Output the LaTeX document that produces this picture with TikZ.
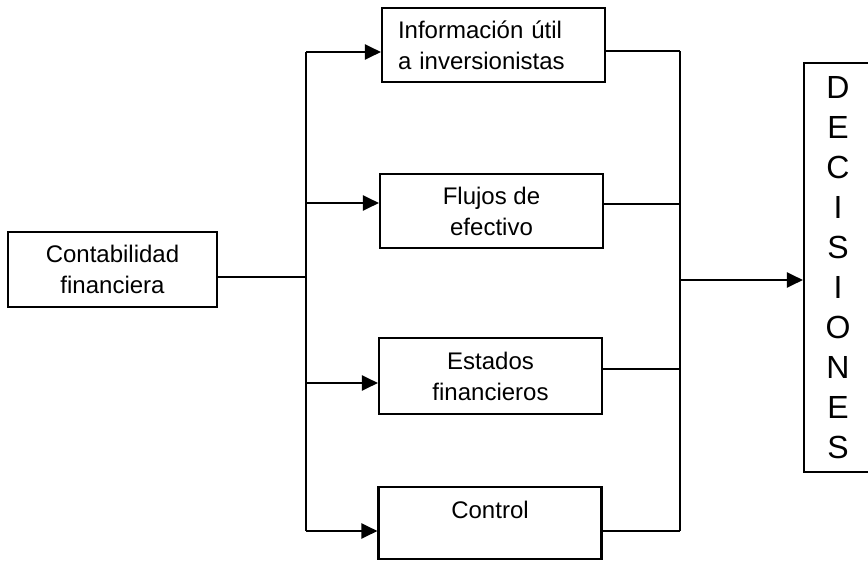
\documentclass[tikz,border=0pt]{standalone}
\usepackage{fontspec}
\setmainfont{Liberation Sans}
\usetikzlibrary{arrows.meta}

\begin{document}
\begin{tikzpicture}[
  x=1pt, y=-1pt,
  bx/.style={rectangle, draw, line width=2.1pt, minimum width=223pt, minimum height=74pt,
             inner sep=0pt, align=center, font=\fontsize{24}{31}\selectfont},
  ln/.style={line width=2.1pt},
  ar/.style={ln, -{Triangle[length=16pt, width=15pt]}}
]
  \useasboundingbox (0,0) rectangle (868,562);

  %--- Source ---
  \node[bx, minimum width=209pt, minimum height=75pt] (cont) at (112.5, 269.5) {Contabilidad\\financiera};

  %--- Outputs ---
  \node[bx, align=left, text width=191pt] (info) at (493.5, 45) {Información útil\\a inversionistas};
  \node[bx] (flujo) at (491.5, 211) {Flujos de\\efectivo};
  \node[bx, minimum height=76pt] (edos) at (490.5, 376) {Estados\\financieros};
  \node[bx, minimum height=72pt] (ctrl) at (490, 523) {Control\\[-14pt]\strut};

  %--- Decision ---
  \node[draw, line width=2.1pt, minimum width=68pt, minimum height=409pt, inner sep=0pt,
        align=center, font=\fontsize{32}{40}\selectfont] (dec) at (838, 267.5)
        {D\\E\\C\\I\\S\\I\\O\\N\\E\\S};

  %--- Bus points ---
  \coordinate (lm) at (306, 277);
  \coordinate (l1) at (306, 52);
  \coordinate (l2) at (306, 203);
  \coordinate (l3) at (306, 383);
  \coordinate (l4) at (306, 531);
  \coordinate (rm) at (680, 280);
  \coordinate (r1) at (680, 51);
  \coordinate (r2) at (680, 204);
  \coordinate (r3) at (680, 369);
  \coordinate (r4) at (680, 531);

  % Edges
  \draw[ln] (cont.east |- lm) -- (lm);
  \draw[ln] (l1) -- (l4);
  \draw[ar] (l1) -- (l1 -| info.west);
  \draw[ar] (l2) -- (l2 -| flujo.west);
  \draw[ar] (l3) -- (l3 -| edos.west);
  \draw[ar] (l4) -- (l4 -| ctrl.west);

  \draw[ln] (info.east |- r1)  -- (r1);
  \draw[ln] (flujo.east |- r2) -- (r2);
  \draw[ln] (edos.east |- r3)  -- (r3);
  \draw[ln] (ctrl.east |- r4)  -- (r4);
  \draw[ln] (r1) -- (r4);
  \draw[ar] (rm) -- (rm -| dec.west);
\end{tikzpicture}
\end{document}
